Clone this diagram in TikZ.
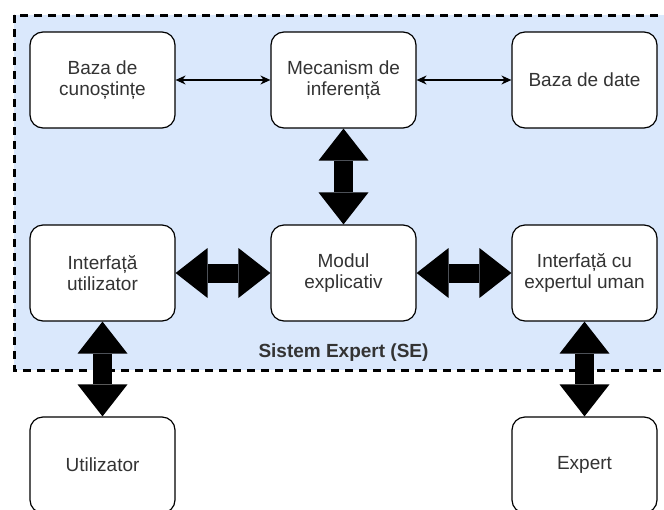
\documentclass[tikz,border=0pt]{standalone}
\usepackage{fontspec}
\setmainfont{Liberation Sans}
\usetikzlibrary{arrows.meta}

\definecolor{sefill}{HTML}{DAE8FC}
\definecolor{txtgray}{HTML}{333333}

\begin{document}
\begin{tikzpicture}[
  x=0.5pt, y=-0.5pt,
  every node/.style={font=\fontsize{9.5}{10.5}\selectfont,text=txtgray},
  box/.style={draw,fill=white,rounded corners=6.5pt,line width=0.6pt,
    minimum width=72.5pt,minimum height=48pt,inner sep=0pt,align=center},
  thin/.style={{Stealth[length=5pt,width=4.5pt]}-{Stealth[length=5pt,width=4.5pt]},line width=0.6pt},
  fat/.style={{Triangle[length=16pt,width=25pt,line width=0pt]}-{Triangle[length=16pt,width=25pt,line width=0pt]},line width=9.5pt}
]
\useasboundingbox (0,0) rectangle (664,509);
% container
\draw[fill=sefill,line width=1.5pt,dash pattern=on 4pt off 3pt] (14,15) rectangle (674,370);
\node[font=\fontsize{9.5}{10.5}\selectfont\bfseries] (se) at (343.5,353) {Sistem Expert (SE)};
% boxes
\node[box] (bc) at (102.5,80) {Baza de\\cunoștințe};
\node[box] (mi) at (343.5,80) {Mecanism de\\inferență};
\node[box] (bd) at (584.5,80) {Baza de date};
\node[box] (iu) at (102.5,273) {Interfață\\utilizator};
\node[box] (me) at (343.5,273) {Modul\\explicativ};
\node[box] (ie) at (584.5,273) {Interfață cu\\expertul uman};
\node[box] (ut) at (102.5,465) {Utilizator};
\node[box] (ex) at (584.5,465) {Expert};
% arrows
\draw[thin] (bc) -- (mi);
\draw[thin] (mi) -- (bd);
\draw[fat] (mi) -- (me);
\draw[fat] (iu) -- (me);
\draw[fat] (me) -- (ie);
\draw[fat] (iu) -- (ut);
\draw[fat] (ie) -- (ex);
\end{tikzpicture}
\end{document}
